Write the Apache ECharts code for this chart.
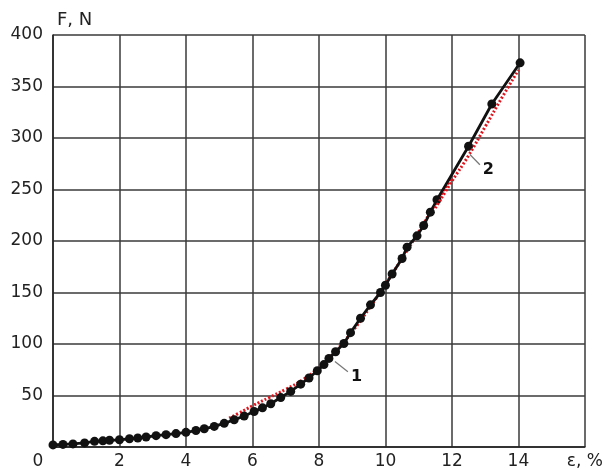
<!DOCTYPE html>
<html>
<head>
<meta charset="utf-8">
<script src="https://cdn.jsdelivr.net/npm/echarts@6/dist/echarts.min.js"></script>
<style>
  html, body { margin: 0; padding: 0; background: #fff; }
  #chart { width: 606px; height: 470px; }
</style>
</head>
<body>
<div id="chart"></div>
<script>
// Measured force F (N) against strain ε (%)
const strain = [0, 0.3, 0.6, 0.95, 1.25, 1.5, 1.7, 2.0, 2.3, 2.55, 2.8, 3.1, 3.4, 3.7, 4.0, 4.3, 4.55, 4.85,
  5.15, 5.45, 5.75, 6.05, 6.3, 6.55, 6.85, 7.15, 7.45, 7.7, 7.95, 8.15, 8.3, 8.5, 8.75, 8.95, 9.25, 9.55,
  9.85, 10.0, 10.2, 10.5, 10.65, 10.95, 11.15, 11.35, 11.55, 12.5, 13.2, 14.05];
const force = [2, 2.5, 3, 4, 5.5, 6, 6.5, 7, 8, 8.7, 9.7, 11, 12, 13, 14.2, 16, 17.7, 20,
  23, 26.5, 30, 34.5, 38, 42, 48, 54, 61, 67, 74, 80, 86, 92.5, 100.5, 111, 125, 138,
  150, 157, 168, 183, 194, 205, 215, 228, 240, 292, 333, 373];

// Approximating curve 1 (lower branch)
const fit1Strain = [5.3, 5.6, 6.0, 6.5, 7.0, 7.5, 8.0, 8.5, 9.0, 9.5, 10.0, 10.5, 11.0, 11.5, 12.0];
const fit1Force  = [28, 33, 40, 48, 56, 65, 77, 93, 112, 134, 158, 183, 209, 236, 262];

// Approximating curve 2 (upper branch)
const fit2Strain = [11.5, 12.0, 12.5, 13.0, 13.5, 14.0];
const fit2Force  = [232, 258, 283, 311, 339, 366];

// Curve labels with their leader lines
const tag1Strain = [8.48, 8.87];
const tag1Force  = [83, 73];
const tag2Strain = [12.54, 12.84];
const tag2Force  = [284, 274];

const xTicks = ['0', '2', '4', '6', '8', '10', '12', '14', 'ε, %'];
const yTicks = ['', '50', '100', '150', '200', '250', '300', '350', '400'];

const zip = (xs, ys) => xs.map((x, i) => [x, ys[i]]);

const FONT = 'DejaVu Sans';
const gridLine = { show: true, lineStyle: { color: '#3a3a3a', width: 1.5 } };

const chart = echarts.init(document.getElementById('chart'), null, { renderer: 'canvas' });

chart.setOption({
  animation: false,
  backgroundColor: '#ffffff',
  grid: { left: 53, right: 21, top: 35, bottom: 21, containLabel: false },
  xAxis: {
    type: 'value', min: 0, max: 16, interval: 2,
    axisLine: { show: true, lineStyle: { color: '#222', width: 1.5 } },
    axisTick: { show: false },
    splitLine: gridLine,
    axisLabel: {
      color: '#222', fontFamily: FONT, fontSize: 17, margin: 6,
      formatter: v => {
        const s = xTicks[Math.round(v / 2)];
        return v === 0 ? '{o|' + s + '}' : s;
      },
      rich: { o: { fontFamily: FONT, fontSize: 17, color: '#222', padding: [0, 30, 0, 0] } }
    }
  },
  yAxis: {
    type: 'value', min: 0, max: 400, interval: 50,
    name: 'F, N', nameLocation: 'end', nameGap: 6,
    nameTextStyle: { color: '#222', fontFamily: FONT, fontSize: 18, align: 'left', padding: [0, 0, 0, 4] },
    axisLine: { show: true, lineStyle: { color: '#222', width: 1.5 } },
    axisTick: { show: false },
    splitLine: gridLine,
    axisLabel: {
      color: '#222', fontFamily: FONT, fontSize: 17, margin: 10,
      formatter: v => yTicks[Math.round(v / 50)]
    }
  },
  series: [
    {
      type: 'line', data: zip(strain, force),
      symbol: 'circle', symbolSize: 9,
      itemStyle: { color: '#111' },
      lineStyle: { color: '#111', width: 2.8 },
      z: 3
    },
    {
      type: 'line', data: zip(fit1Strain, fit1Force), smooth: true,
      symbol: 'none',
      lineStyle: { color: '#e0141c', width: 3, type: [2, 2] },
      z: 2
    },
    {
      type: 'line', data: zip(fit2Strain, fit2Force), smooth: true,
      symbol: 'none',
      lineStyle: { color: '#e0141c', width: 3, type: [2, 2] },
      z: 4
    },
    {
      type: 'line', data: zip(tag1Strain, tag1Force),
      symbol: 'none', silent: true,
      lineStyle: { color: '#777', width: 1.2 },
      endLabel: { show: true, formatter: '1', color: '#111', fontFamily: FONT, fontSize: 16, fontWeight: 'bold', distance: 3, offset: [0, 5] },
      z: 5
    },
    {
      type: 'line', data: zip(tag2Strain, tag2Force),
      symbol: 'none', silent: true,
      lineStyle: { color: '#777', width: 1.2 },
      endLabel: { show: true, formatter: '2', color: '#111', fontFamily: FONT, fontSize: 16, fontWeight: 'bold', distance: 3, offset: [0, 5] },
      z: 5
    }
  ]
});
</script>
</body>
</html>
